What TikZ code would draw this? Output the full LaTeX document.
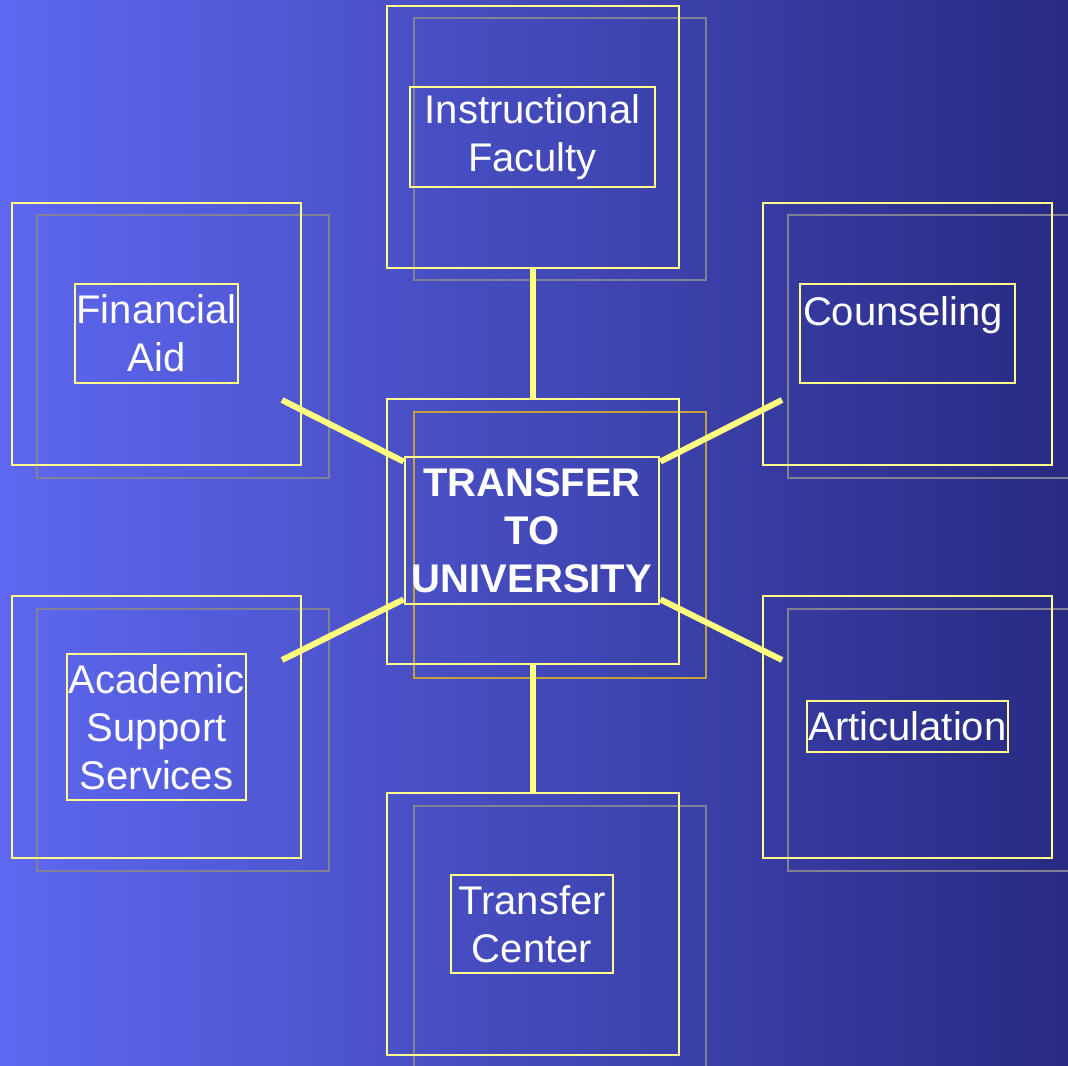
\documentclass[tikz,border=0pt]{standalone}
\usepackage{fontspec}
\setmainfont{Liberation Sans}
\definecolor{bgleft}{RGB}{94,104,240}
\definecolor{bgmid}{RGB}{68,78,196}
\definecolor{bgright}{RGB}{40,42,130}
\definecolor{paleyellow}{RGB}{255,255,140}
\definecolor{linkyellow}{RGB}{255,255,128}
\definecolor{shadowgray}{RGB}{128,128,150}
\definecolor{shadowgold}{RGB}{196,160,60}

\begin{document}
\begin{tikzpicture}[x=0.75pt,y=-0.75pt]
            \tikzstyle{outerbox} = [draw=paleyellow,line width=1.5pt,minimum width=219pt,minimum height=196.5pt,inner sep=0pt];
            \tikzstyle{shadowbox} = [draw=shadowgray,line width=1.5pt,minimum width=219pt,minimum height=196.5pt,inner sep=0pt];
            \tikzstyle{textbox} = [draw=paleyellow,line width=2.2pt,text=white,align=center,inner sep=0pt,font=\fontsize{30}{36}\selectfont];
            \tikzstyle{linkline} = [draw=linkyellow,line width=4.5pt];
            \shade[left color=bgleft,middle color=bgmid,right color=bgright] (0,0) rectangle (1068,1066);
            \useasboundingbox (0,0) rectangle (1068,1066);
            % shadows behind the frames
            \node[shadowbox] (facs) at (559.5,149.5) {};
            \node[shadowbox] (fins) at (182.5,346.5) {};
            \node[shadowbox] (cous) at (933.5,346.5) {};
            \node[shadowbox,draw=shadowgold,minimum height=199.5pt] (hubs) at (559.5,545) {};
            \node[shadowbox] (acas) at (182.5,740) {};
            \node[shadowbox] (arts) at (933.5,740) {};
            \node[shadowbox] (tcrs) at (559.5,936.5) {};
            % frames
            \node[outerbox] (fac) at (533,137) {};
            \node[outerbox,minimum width=216.75pt] (fin) at (156.5,334) {};
            \node[outerbox,minimum width=216.75pt] (cou) at (907.5,334) {};
            \node[outerbox,minimum height=198.75pt] (hub) at (533,531.5) {};
            \node[outerbox,minimum width=216.75pt] (aca) at (156.5,727) {};
            \node[outerbox,minimum width=216.75pt] (art) at (907.5,727) {};
            \node[outerbox] (tcr) at (533,924) {};
            % text boxes
            \node[textbox,minimum width=183.75pt,minimum height=75pt] (fact) at (532.5,137) {Instructional\\Faculty};
            \node[textbox,minimum width=122.25pt,minimum height=74.25pt] (fint) at (156.5,333.5) {Financial\\Aid};
            \node[textbox,align=left,text width=156.75pt,inner xsep=2.25pt,text height=31.5pt,text depth=42.75pt] (cout) at (907.5,333.5) {Counseling};
            \node[textbox,minimum width=190.5pt,minimum height=110.25pt,font=\fontsize{30}{36}\selectfont\bfseries] (hubt) at (532,530.5) {TRANSFER\\TO\\UNIVERSITY};
            \node[textbox,minimum width=134.25pt,minimum height=109.5pt] (acat) at (156.5,727) {Academic\\Support\\Services};
            \node[textbox,minimum width=150.75pt,minimum height=38.25pt] (artt) at (907.5,726.5) {Articulation};
            \node[textbox,minimum width=121.5pt,minimum height=73.5pt] (tcrt) at (532,924) {Transfer\\Center};
            % connectors
            \coordinate (finend) at (282,400);
            \coordinate (couend) at (782,400);
            \coordinate (acaend) at (282,660);
            \coordinate (artend) at (782,660);
            \draw[linkline] (fac.south) -- (hub.north);
            \draw[linkline] (hub.south) -- (tcr.north);
            \draw[linkline] ([yshift=-4.5pt]hubt.north west) -- (finend);
            \draw[linkline] ([yshift=-4.5pt]hubt.north east) -- (couend);
            \draw[linkline] ([yshift=4.5pt]hubt.south west) -- (acaend);
            \draw[linkline] ([yshift=4.5pt]hubt.south east) -- (artend);
        \end{tikzpicture}
\end{document}
